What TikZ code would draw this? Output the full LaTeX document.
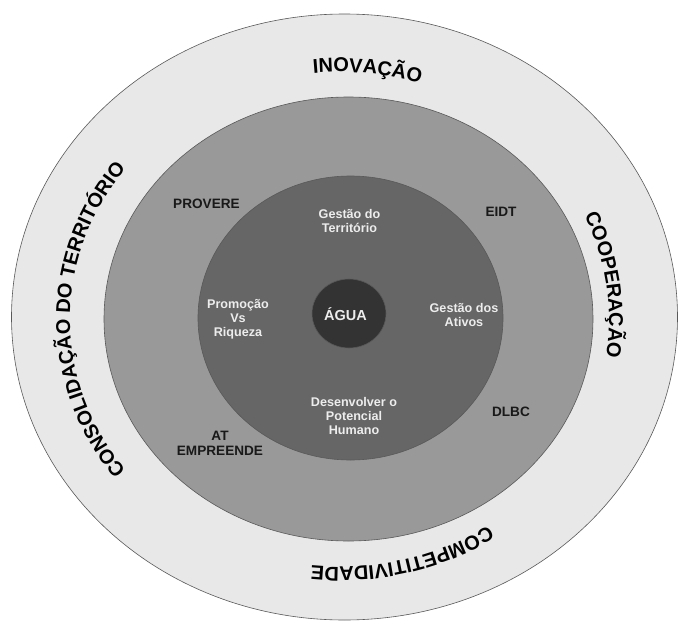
\documentclass[tikz,border=0pt]{standalone}
\usepackage{fontspec}
\setmainfont{Liberation Sans}
\usepackage{tikz}
\usetikzlibrary{calc, decorations.text}

\definecolor{ringlight}{gray}{0.91}
\definecolor{ringmid}{gray}{0.60}
\definecolor{ringinner}{gray}{0.40}
\definecolor{ringcore}{gray}{0.20}
\definecolor{edgegray}{gray}{0.35}

\newcommand{\ringfont}{\bfseries\fontsize{20}{24}\selectfont}

\tikzset{
  ring/.style={draw=edgegray, line width=0.6pt},
  darklabel/.style={font=\bfseries\fontsize{13.6}{15}\selectfont, text=black!90, align=center, inner sep=0pt},
  lightlabel/.style={font=\bfseries\fontsize{12.6}{13.8}\selectfont, text=white!93!black, align=center, inner sep=0pt},
  ringtext/.style={decorate, decoration={text along path, text align=center, text={|\ringfont|#1}}}
}

\begin{document}
\begin{tikzpicture}[x=1pt, y=1pt]
  \useasboundingbox (0,0) rectangle (681,-624);

  % rings, from outside in
  \filldraw[ring, fill=ringlight] (344.5,-317) ellipse [x radius=333pt, y radius=303pt];
  \filldraw[ring, fill=ringmid] (348.5,-319) ellipse [x radius=244.5pt, y radius=222pt];
  \filldraw[ring, fill=ringinner] (350.5,-318) ellipse [x radius=152.5pt, y radius=142pt];
  \filldraw[ring, fill=ringcore] (349,-313.5) ellipse [x radius=37pt, y radius=34.5pt];

  % words round the outer ring
  \coordinate (tc) at (339.5,-319.5);
  \path[ringtext=INOVAÇÃO] ($(tc)+(123.9:269.5pt and 247.5pt)$)
    arc[start angle=123.9, end angle=43.9, x radius=269.5pt, y radius=247.5pt];
  \path[ringtext=COOPERAÇÃO] ($(tc)+(47.8:269.5pt and 247.5pt)$)
    arc[start angle=47.8, end angle=-32.2, x radius=269.5pt, y radius=247.5pt];
  \path[ringtext=COMPETITIVIDADE] ($(tc)+(-25.7:269.5pt and 247.5pt)$)
    arc[start angle=-25.7, end angle=-125.7, x radius=269.5pt, y radius=247.5pt];
  \path[ringtext=CONSOLIDAÇÃO DO TERRITÓRIO] ($(tc)+(245:269.5pt and 247.5pt)$)
    arc[start angle=245, end angle=115, x radius=269.5pt, y radius=247.5pt];

  % middle ring
  \node[darklabel] (provere) at (206.5,-204) {PROVERE};
  \node[darklabel] (eidt) at (501,-212) {EIDT};
  \node[darklabel] (dlbc) at (511,-412) {DLBC};
  \node[darklabel] (atemp) at (220,-443) {AT\\EMPREENDE};

  % inner ring
  \node[lightlabel] (gestterr) at (349.5,-221) {Gestão do\\Território};
  \node[lightlabel] (promo) at (238,-319.5) {Promoção\\Vs\\Riqueza};
  \node[lightlabel] (gestativ) at (464,-315) {Gestão dos\\Ativos};
  \node[lightlabel] (desenv) at (354,-416) {Desenvolver o\\Potencial\\Humano};
  \node[lightlabel, font=\bfseries\fontsize{14.5}{16}\selectfont] (agua) at (345.5,-314.5) {ÁGUA};
\end{tikzpicture}
\end{document}
